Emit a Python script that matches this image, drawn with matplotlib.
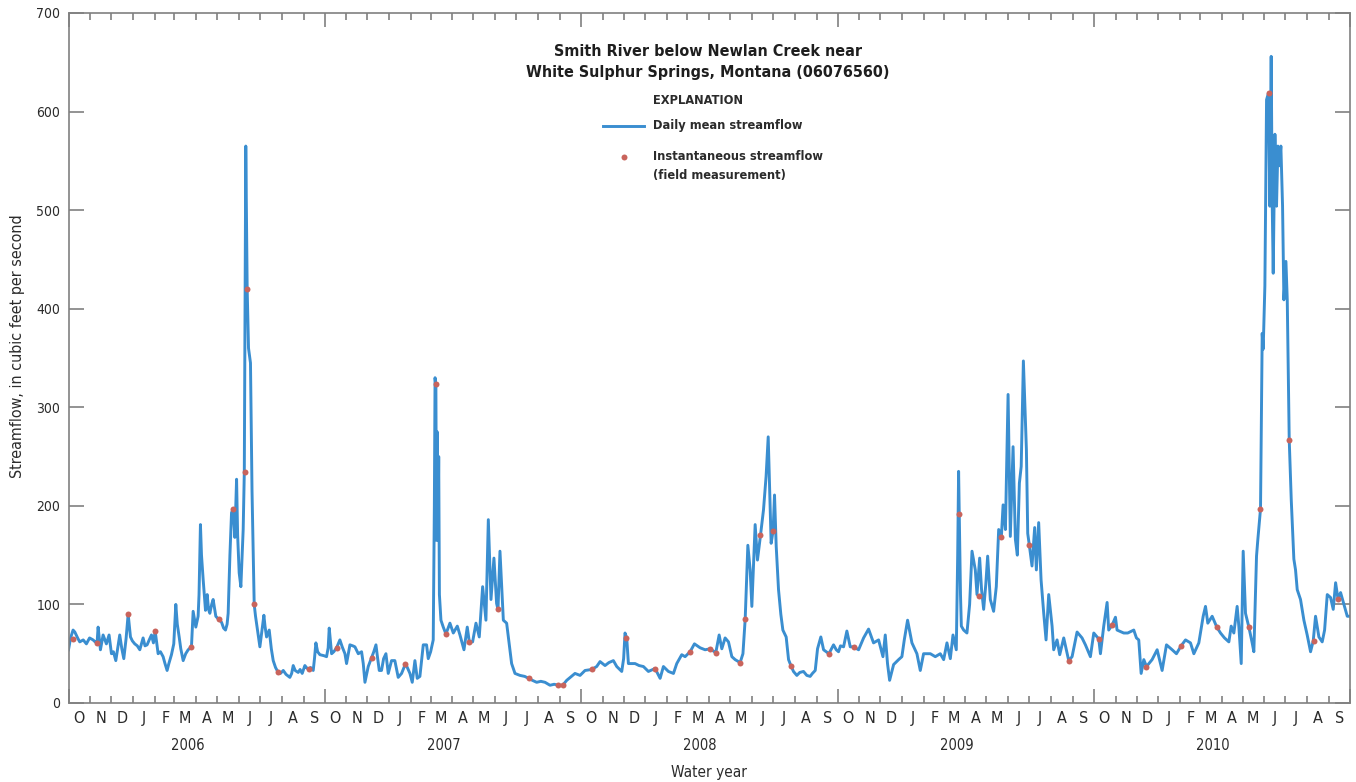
import numpy as np
import pandas as pd
import matplotlib
matplotlib.use("Agg")
import matplotlib.pyplot as plt
import matplotlib.dates as mdates
import matplotlib.transforms as mtransforms
from matplotlib.lines import Line2D

plt.rcParams['font.family'] = ['DejaVu Sans']
plt.rcParams['font.stretch'] = 'condensed'

# daily mean streamflow, days counted from 1 Oct 2005 (start of water year 2006)
flow_day = [
    0, 3, 6.5, 9, 13, 16, 21, 25.5, 30, 35, 38, 40.7, 42.2, 45.5, 49.3, 54, 57.8, 61.2, 64, 67.4,
    70, 73, 76, 78.8, 82, 85, 88.3, 91, 94.4, 98, 101.6, 106.3, 109, 112, 115, 118.2, 121, 123.5,
    127.7, 131, 134.8, 137.5, 140.5, 143, 146.7, 150, 152.9, 155, 157.7, 160, 163.4, 167, 170.5,
    175.2, 177.6, 181.4, 184.7, 186, 188, 189.5, 191.9, 195.2, 197.6, 199.5, 201.4, 204, 206.1,
    209.9, 213.7, 218, 221, 223.7, 226, 227.5, 230, 232.3, 234.6, 237, 239.5, 241, 243.2, 245.6,
    248.9, 250.5, 252.6, 254.6, 256.5, 259.3, 261.5, 264.6, 266.5, 267.9, 270, 272.7, 275, 278.4,
    280, 282.2, 286, 289, 291.7, 295, 298.8, 302, 306, 310, 315.4, 318, 320.2, 323, 327.3, 330,
    333, 336.8, 339, 342, 345, 348.7, 350.5, 352.5, 355, 358.2, 364,
    # water year 2007
    367.7, 370, 371.5, 374.9, 378, 382, 386.7, 390, 393.9, 396.2, 401, 405, 408.1, 412.9, 417.6,
    420, 422.4, 427.1, 431.9, 435, 438.1, 440, 442.8, 446, 449, 452.3, 455.6, 460.3, 465, 469.8,
    474.6, 480.3, 486.5, 489.8, 493.6, 496.9, 500.7, 505.5, 510.2, 512.6, 516, 519.7, 521.3,
    522.3, 523.5, 524.3, 525.5, 526.5, 527.5, 528.5, 530.7, 534, 537.8, 543.5, 548.3, 554, 557.8,
    563.5, 568.2, 571.1, 575.8, 580.6, 585.3, 590.1, 594.8, 598.2, 602, 606.2, 610, 612, 614.8,
    619.6, 624.3, 626.7, 631.4, 636.2, 643.3, 650, 655.7, 661, 667.1, 673, 679, 686.1, 692, 698,
    704.2, 709.9, 715, 721.7, 728.9,
    # water year 2008
    736, 745.5, 752.6, 757.4, 764.5, 770, 776.4, 781.2, 788.3, 791, 793, 795.4, 797.8, 807.3, 813,
    819.2, 826.3, 835.8, 843, 847.7, 854.8, 862, 866.7, 873.8, 878.6, 885.7, 891.9, 900, 907.1,
    914.3, 922.3, 927.1, 930.9, 935.6, 940.4, 945.2, 949.9, 957, 961, 964.2, 968, 971.3, 973.7,
    978.4, 981.7, 986, 990.3, 994, 997, 1001.2, 1004, 1006, 1008.4, 1011.7, 1015, 1017.9, 1022.6,
    1026, 1029.3, 1033, 1037.8, 1042, 1047.3, 1052, 1056.8, 1060, 1064, 1067.3, 1072, 1075.9,
    1083.5, 1090.1, 1094,
    # water year 2009
    1097.2, 1100, 1104.4, 1109.1, 1113.9, 1118.6, 1125.8, 1132.9, 1140, 1147.1, 1154.3, 1160.5,
    1163.8, 1167, 1170, 1175.7, 1182.8, 1187.5, 1190.9, 1195.6, 1201.8, 1208.9, 1213.7, 1218.4,
    1228, 1235.1, 1242.2, 1247, 1251.7, 1256.5, 1260.3, 1265, 1267, 1268.3, 1269.3, 1271, 1272.2,
    1275.5, 1280.2, 1284, 1287.4, 1292.1, 1294.5, 1298.3, 1301, 1304, 1307, 1309.7, 1313.5,
    1318.2, 1322, 1325.4, 1329.2, 1331.7, 1335, 1338.8, 1342, 1345.9, 1349.2, 1352, 1354.9,
    1357.5, 1360.6, 1364.9, 1366.8, 1369.1, 1372.9, 1376.7, 1379.1, 1382.4, 1385.8, 1389.6,
    1392.9, 1396.7, 1401.5, 1403.8, 1408.6, 1412.4, 1418.1, 1425.2, 1430, 1437.1, 1444.2, 1449,
    1456.1,
    # water year 2010
    1460.9, 1468, 1470.4, 1475.1, 1479.9, 1482.2, 1487, 1491.8, 1494.1, 1503.6, 1509.3, 1517.9,
    1521.7, 1525, 1528.4, 1532.2, 1536, 1544, 1551.2, 1558.3, 1564.5, 1572.6, 1578.7, 1585.4,
    1591.6, 1598.7, 1603.5, 1610.6, 1616.8, 1620.1, 1623.4, 1629.6, 1636.2, 1641.5, 1647.2,
    1653.4, 1656.7, 1660.5, 1665.2, 1667.6, 1671, 1673.8, 1677.1, 1681.9, 1686.6, 1689, 1692.8,
    1694.7, 1698.5, 1700.9, 1702.3, 1704.7, 1707.1, 1709.9, 1711.8, 1713.7, 1715.2, 1716.6, 1719,
    1721.3, 1723.3, 1725.2, 1727.5, 1729.9, 1731.8, 1734.7, 1736.6, 1739.4, 1742.3, 1746, 1748.4,
    1750.8, 1755.5, 1760.3, 1765, 1769.8, 1773.6, 1776.9, 1781.7, 1786.4, 1789.8, 1793.6, 1798.3,
    1802.1, 1805.5, 1808.8, 1812.6, 1817.3, 1822.1, 1825,
]
flow_cfs = [
    54, 66, 74, 72, 66, 62, 64, 60, 66, 64, 62, 61, 77, 54, 69, 60, 69, 50, 52, 43,
    55, 69, 55, 45, 65, 90, 67, 63, 60, 58, 54, 66, 58, 59, 64, 69, 61, 73,
    50, 52, 47, 40, 33, 40, 49, 60, 100, 80, 67, 55, 43, 50, 54,
    57, 93, 77, 88, 110, 181, 150, 125, 94, 110, 95, 91, 100, 105,
    88, 85, 82, 76, 74, 80, 91, 150, 193, 197, 168, 227, 170, 132, 118,
    176, 234, 565, 420, 360, 345, 215, 100, 88, 81, 70, 57, 70, 89,
    78, 67, 74, 55, 43, 36, 31, 30, 33, 29, 26, 30, 38, 33, 31, 34,
    30, 38, 36, 34, 36, 33, 45, 61, 52, 49, 48,
    47, 56, 76, 50, 52, 56, 64, 57, 50, 40, 59, 58, 57, 50, 52,
    40, 21, 37, 46, 52, 59, 48, 33, 33, 45, 50, 30, 43, 43, 26,
    30, 40, 30, 21, 43, 25, 27, 59, 59, 45, 52, 64, 200,
    330, 322, 165, 275, 165, 250, 110, 84, 77, 70, 81, 71, 78, 69,
    54, 77, 62, 62, 81, 67, 118, 84, 186, 105, 147, 101, 95, 154,
    84, 81, 67, 40, 30, 28, 27, 25, 23, 21, 22, 21, 18, 19, 18,
    18, 23, 26, 30, 28,
    33, 34, 37, 42, 38, 41, 43, 37, 32, 45, 71, 66, 40, 40, 38,
    37, 32, 35, 25, 37, 32, 30, 40, 49, 47, 52, 60, 56, 54,
    55, 51, 69, 55, 66, 62, 47, 44, 41, 50, 85, 160, 135, 98,
    181, 145, 170, 196, 230, 270, 162, 175, 211, 159, 115, 90, 74, 67,
    44, 38, 32, 28, 31, 32, 28, 27, 30, 33, 55, 67, 54,
    50, 59, 54,
    52, 58, 57, 73, 57, 57, 54, 66, 75, 61, 64, 47,
    69, 40, 23, 39, 44, 47, 64, 84, 61, 50, 33, 50,
    50, 47, 50, 44, 61, 45, 69, 54, 150, 235, 191, 110, 78,
    74, 71, 100, 154, 135, 110, 147, 115, 95, 120, 149, 105,
    93, 118, 176, 168, 201, 176, 313, 169, 260, 166, 150, 223,
    240, 347, 257, 172, 160, 139, 178, 135, 183, 125, 91,
    64, 110, 78, 54, 64, 49, 66, 43, 47, 72, 66, 59,
    47,
    71, 65, 50, 78, 102, 74, 79, 87, 74, 71, 71, 74,
    66, 64, 30, 44, 37, 44, 54, 33, 59, 54, 50, 58,
    64, 61, 50, 61, 88, 98, 81, 88, 77, 71, 66,
    62, 78, 71, 98, 78, 40, 154, 91, 77, 61, 52, 149,
    166, 197, 375, 359, 423, 612, 619, 504, 656, 504, 436, 577,
    504, 565, 545, 565, 504, 409, 448, 409, 267, 206, 146, 135,
    115, 105, 84, 69, 52, 63, 88, 67, 62, 74, 110, 107,
    95, 122, 106, 112, 100, 88, 88,
]

# instantaneous streamflow, field measurements
meas_day = [6, 41, 85, 123, 175, 214, 235, 251, 255, 265, 299, 342, 382, 432, 480, 524, 538,
            571, 612, 656, 698, 704, 746, 795, 836, 886, 914, 922, 957, 964, 986, 1004, 1029,
            1084, 1119, 1269, 1297, 1329, 1369, 1425, 1468, 1487, 1536, 1585, 1636, 1682, 1698,
            1710, 1739, 1774, 1809]
meas_cfs = [65, 61, 90, 73, 57, 85, 197, 234, 420, 100, 31, 34, 56, 46, 40, 324, 70,
            62, 95, 25, 18, 18, 34, 66, 35, 52, 55, 51, 41, 85, 170, 175, 38,
            50, 57, 192, 109, 168, 160, 43, 65, 79, 37, 58, 77, 77, 197,
            619, 267, 63, 106]

water_years = ['2006', '2007', '2008', '2009', '2010']

start = pd.Timestamp('2005-10-01')
end = pd.Timestamp('2010-10-01')
flow_dates = start + pd.to_timedelta(flow_day, unit='D')
meas_dates = start + pd.to_timedelta(meas_day, unit='D')

W, H = 1356, 782
grey = '#808080'
blue = '#3a8ed0'
red = '#c9645c'
ink = '#2b2b2b'

fig = plt.figure(figsize=(W / 100, H / 100), dpi=100)
ax = fig.add_axes([68.5 / W, 1 - 703 / H, (1350 - 68.5) / W, (703 - 13) / H])

ax.plot(flow_dates, flow_cfs, color=blue, lw=2.1, solid_joinstyle='round', zorder=2)
ax.plot(meas_dates, meas_cfs, 'o', color=red, ms=4.3, mec='none', zorder=3)

ax.set_xlim(start, end)
ax.set_ylim(0, 700)

# axes frame and ticks
for s in ax.spines.values():
    s.set_color(grey)
    s.set_linewidth(1.2)
ax.set_yticks(range(0, 701, 100))
ax.tick_params(axis='y', direction='in', length=11, width=1.2, color=grey,
               left=True, right=True, labelsize=10, labelcolor=ink, pad=6)
ax.xaxis.set_major_locator(mdates.MonthLocator(bymonth=10))
ax.xaxis.set_minor_locator(mdates.MonthLocator(bymonth=[11, 12, 1, 2, 3, 4, 5, 6, 7, 8, 9]))
ax.tick_params(axis='x', which='major', direction='in', length=10, width=1.2, color=grey,
               top=True, labelbottom=False)
ax.tick_params(axis='x', which='minor', direction='in', length=5, width=1.2, color=grey,
               top=True, labelbottom=False)

# month initials and water-year labels under the axis
trans = mtransforms.blended_transform_factory(ax.transData, ax.transAxes)
for m in pd.date_range(start, periods=60, freq='MS'):
    ax.text(m + pd.Timedelta(days=15), -0.022, m.strftime('%b')[0], transform=trans,
            ha='center', va='center', fontsize=11.5, color=ink)
for i, yr in enumerate(water_years):
    ax.text(start + pd.DateOffset(years=i) + pd.Timedelta(days=170), -0.061, yr,
            transform=trans, ha='center', va='center', fontsize=10.5, color=ink)
ax.text(0.5, -0.1, 'Water year', transform=ax.transAxes, ha='center', va='center',
        fontsize=11, color=ink)
fig.text(18 / W, 1 - 346 / H, 'Streamflow, in cubic feet per second', rotation=90,
         ha='center', va='center', fontsize=11.5, color=ink)

# title and explanation
fig.text(708 / W, 1 - 62 / H, 'Smith River below Newlan Creek near\nWhite Sulphur Springs, Montana (06076560)',
         ha='center', va='center', fontsize=11.5, fontweight='bold', color='#1e1e1e',
         linespacing=1.45)
fig.text(653 / W, 1 - 101 / H, 'EXPLANATION', ha='left', va='center', fontsize=9.2,
         fontweight='bold', color=ink)
fig.add_artist(Line2D([603 / W, 644 / W], [1 - 126 / H, 1 - 126 / H], color=blue, lw=2.1,
                      transform=fig.transFigure))
fig.text(653 / W, 1 - 126 / H, 'Daily mean streamflow', ha='left', va='center',
         fontsize=9.2, fontweight='bold', color=ink)
fig.add_artist(Line2D([624 / W], [1 - 157 / H], marker='o', color=red, ms=4.3, mec='none',
                      transform=fig.transFigure))
fig.text(653 / W, 1 - 157 / H, 'Instantaneous streamflow', ha='left', va='center',
         fontsize=9.2, fontweight='bold', color=ink)
fig.text(653 / W, 1 - 175 / H, '(field measurement)', ha='left', va='center',
         fontsize=9.2, fontweight='bold', color=ink)

fig.savefig('out.png', dpi=100)
